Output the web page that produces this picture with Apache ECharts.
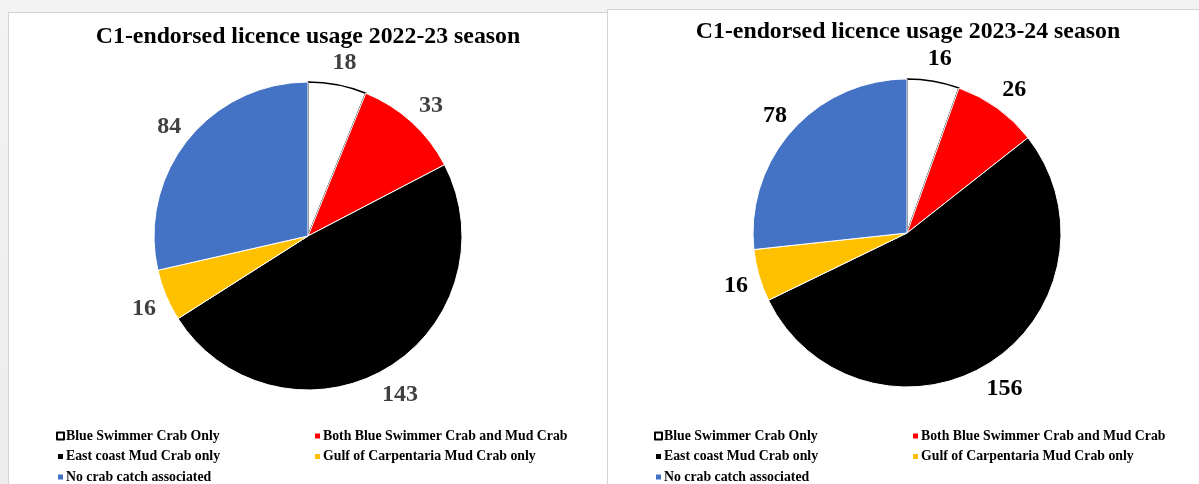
<!DOCTYPE html>
<html>
<head>
<meta charset="utf-8">
<script src="https://cdn.jsdelivr.net/npm/echarts@6/dist/echarts.min.js"></script>
<style>
  html, body { margin: 0; padding: 0; width: 1199px; height: 484px; overflow: hidden;
    background: linear-gradient(#f3f3f3, #ececec); }
  .panel { position: absolute; background: #fff; border: 1px solid #d4d4d4; box-sizing: content-box; }
  #p1 { left: 8px; top: 12px; width: 598px; height: 480px; }
  #p2 { left: 607px; top: 9px; width: 600px; height: 480px; }
</style>
</head>
<body>
<div id="p1" class="panel"></div>
<div id="p2" class="panel"></div>
<script>
const categories = [
  'Blue Swimmer Crab Only',
  'Both Blue Swimmer Crab and Mud Crab',
  'East coast Mud Crab only',
  'Gulf of Carpentaria Mud Crab only',
  'No crab catch associated'
];
const values2022 = [18, 33, 143, 16, 84];
const values2023 = [16, 26, 156, 16, 78];
const titles = ['C1-endorsed licence usage 2022-23 season', 'C1-endorsed licence usage 2023-24 season'];
const colors = ['#ffffff', '#ff0000', '#000000', '#ffc000', '#4472c4'];

const serif = '"Liberation Serif", "Times New Roman", serif';

function buildOption(title, values, labelColor, titleTop, legendTop, col1, col2) {
  const data = categories.map((c, i) => ({
    name: c,
    value: values[i],
    itemStyle: i === 0
      ? { color: colors[i], borderColor: '#000', borderWidth: 1.5 }
      : { color: colors[i], borderColor: '#fff', borderWidth: 1 }
  }));
  const legendBase = {
    orient: 'vertical',
    top: legendTop,
    itemWidth: 7,
    itemHeight: 7,
    itemGap: 6.5,
    icon: 'rect',
    textStyle: { fontFamily: serif, fontWeight: 'bold', fontSize: 13.8, color: '#000', padding: [0, 0, 0, -3] },
    selectedMode: false
  };
  return {
    animation: false,
    title: {
      text: title,
      left: 'center',
      top: titleTop,
      textStyle: { fontFamily: serif, fontWeight: 'bold', fontSize: 23.8, color: '#000' }
    },
    legend: [
      Object.assign({}, legendBase, { left: col1, data: [categories[0], categories[2], categories[4]] }),
      Object.assign({}, legendBase, { left: col2, data: [categories[1], categories[3]] })
    ],
    series: [{
      type: 'pie',
      center: [299, 223],
      radius: 154,
      startAngle: 90,
      clockwise: true,
      avoidLabelOverlap: false,
      label: {
        show: true,
        position: 'outside',
        formatter: '{c}',
        fontFamily: serif,
        fontWeight: 'bold',
        fontSize: 24,
        color: labelColor,
        distanceToLabelLine: 0
      },
      labelLine: { show: false, length: 26, length2: 0 },
      labelLayout: function () { return { align: 'center', verticalAlign: 'middle', dx: 2, dy: 3 }; },
      emphasis: { disabled: true },
      data: data
    }]
  };
}

const c1 = echarts.init(document.getElementById('p1'));
c1.setOption(buildOption(titles[0], values2022, '#404040', 7, 411, 42, 299));
const c2 = echarts.init(document.getElementById('p2'));
c2.setOption(buildOption(titles[1], values2023, '#000000', 5, 414, 41, 298));
</script>
</body>
</html>
